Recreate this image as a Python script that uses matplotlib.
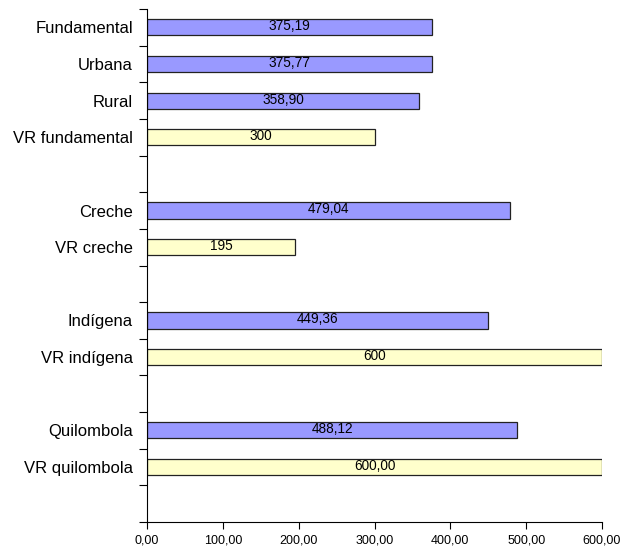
import matplotlib.pyplot as plt
import numpy as np

# slots from top to bottom; empty string marks a blank slot
categories = ["Fundamental", "Urbana", "Rural", "VR fundamental", "",
              "Creche", "VR creche", "",
              "Indígena", "VR indígena", "",
              "Quilombola", "VR quilombola", ""]
values = [375.19, 375.77, 358.90, 300, None,
          479.04, 195, None,
          449.36, 600, None,
          488.12, 600.00, None]
value_labels = ["375,19", "375,77", "358,90", "300", "",
                "479,04", "195", "",
                "449,36", "600", "",
                "488,12", "600,00", ""]
is_reference = [False, False, False, True, False,
                False, True, False,
                False, True, False,
                False, True, False]
x_ticks = [0, 100, 200, 300, 400, 500, 600]
x_tick_labels = ["0,00", "100,00", "200,00", "300,00", "400,00", "500,00", "600,00"]

plt.rcParams['font.family'] = ['Liberation Sans', 'DejaVu Sans']

fig = plt.figure(figsize=(6.26, 5.48), dpi=100)
ax = fig.add_axes([147 / 626, 1 - 522 / 548, 455 / 626, 513 / 548])

n = len(categories)
pos = np.arange(n) + 0.5
for p, v, lab, ref in zip(pos, values, value_labels, is_reference):
    if v is None:
        continue
    color = "#FFFFCC" if ref else "#9999FF"
    ax.barh(p, v, height=0.44, color=color, edgecolor="#222222", linewidth=0.9)
    ax.text(v / 2, p - 0.03, lab, ha="center", va="center", fontsize=9.8)

ax.set_ylim(n, 0)
ax.set_xlim(0, 600)

# category labels centred in slots, tick marks at slot boundaries
ax.set_yticks(np.arange(n + 1))
ax.set_yticklabels([])
ax.set_yticks(pos, minor=True)
ax.set_yticklabels(categories, minor=True, fontsize=12)
ax.tick_params(axis="y", which="minor", length=0, pad=10)
ax.tick_params(axis="y", which="major", length=6, direction="out")

ax.set_xticks(x_ticks)
ax.set_xticklabels(x_tick_labels, fontsize=9)
ax.tick_params(axis="x", length=5, direction="out", pad=4)

ax.spines["top"].set_visible(False)
ax.spines["right"].set_visible(False)

fig.savefig("out.png", dpi=100)
